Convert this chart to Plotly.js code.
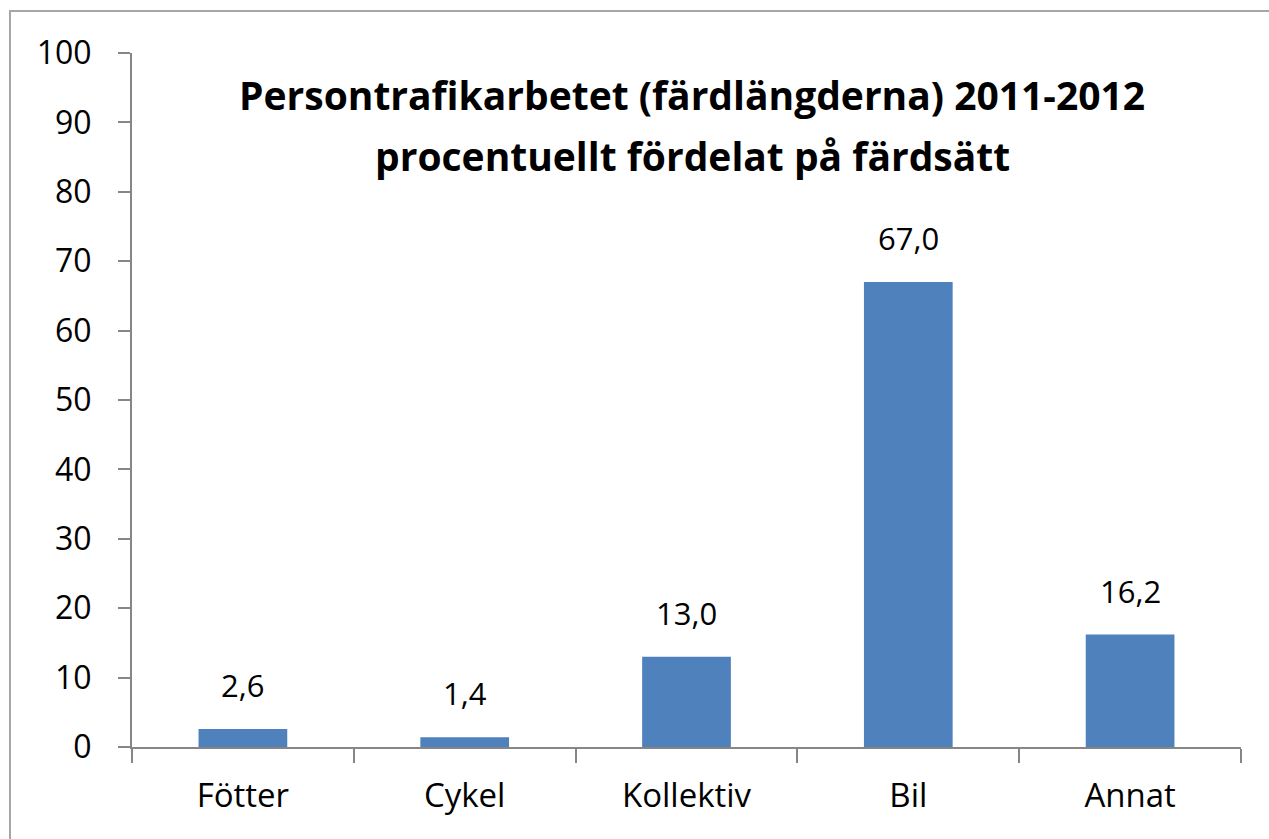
<!DOCTYPE html>
<html>
<head>
<meta charset="utf-8">
<script src="https://cdn.plot.ly/plotly-3.0.1.min.js"></script>
<style>
html,body{margin:0;padding:0;background:#fff;}
#chart{width:1269px;height:839px;}
</style>
</head>
<body>
<div id="chart"></div>
<script>
var categories = ["Fötter", "Cykel", "Kollektiv", "Bil", "Annat"];
var values = [2.6, 1.4, 13.0, 67.0, 16.2];
var yTicks = [0, 10, 20, 30, 40, 50, 60, 70, 80, 90, 100];
var titleLines = ["Persontrafikarbetet (färdlängderna) 2011-2012", "procentuellt fördelat på färdsätt"];

var FONT = "'Open Sans', sans-serif";

var trace = {
  type: "bar",
  x: categories,
  y: values,
  marker: {color: "#4F81BD"},
  hoverinfo: "none"
};

var annotations = categories.map(function (c, i) {
  return {
    x: c, y: values[i], xref: "x", yref: "y",
    text: values[i].toFixed(1).replace(".", ","),
    showarrow: false, yanchor: "bottom", yshift: 21,
    font: {family: FONT, size: 31, color: "#000"}
  };
});
var titleY = [94, 155];
titleLines.forEach(function (t, i) {
  annotations.push({
    xref: "paper", yref: "paper", x: 0.505, y: (747 - titleY[i]) / 694,
    xanchor: "center", yanchor: "middle",
    text: "<b>" + t + "</b>",
    showarrow: false,
    font: {family: FONT, size: 39, color: "#000"}
  });
});

var layout = {
  width: 1269, height: 839,
  margin: {l: 132, r: 28, t: 53, b: 92},
  paper_bgcolor: "#fff", plot_bgcolor: "#fff",
  showlegend: false,
  bargap: 0.6,
  separators: ",.",
  font: {family: FONT, size: 28, color: "#000"},
  xaxis: {
    type: "category",
    showline: true, linecolor: "#868686", linewidth: 2,
    ticks: "outside", tickson: "boundaries", ticklen: 14, tickwidth: 2, tickcolor: "#868686",
    showgrid: false, zeroline: false,
    tickfont: {family: FONT, size: 33, color: "#000"},
    ticklabelstandoff: 18
  },
  yaxis: {
    range: [0, 100],
    tickvals: yTicks,
    ticktext: yTicks.map(String),
    showline: true, linecolor: "#868686", linewidth: 2,
    ticks: "outside", ticklen: 12, tickwidth: 2, tickcolor: "#868686",
    showgrid: false, zeroline: false,
    tickfont: {family: FONT, size: 32, color: "#000"},
    ticklabelstandoff: 20
  },
  annotations: annotations,
  shapes: [{
    type: "rect", xref: "paper", yref: "paper",
    x0: (10 - 132) / 1109, x1: (1290 - 132) / 1109,
    y0: (747 - 860) / 694, y1: (747 - 11) / 694,
    line: {color: "#A6A6A6", width: 2}, fillcolor: "rgba(0,0,0,0)", layer: "below"
  }]
};

Plotly.newPlot("chart", [trace], layout, {staticPlot: true, displayModeBar: false});
</script>
</body>
</html>
